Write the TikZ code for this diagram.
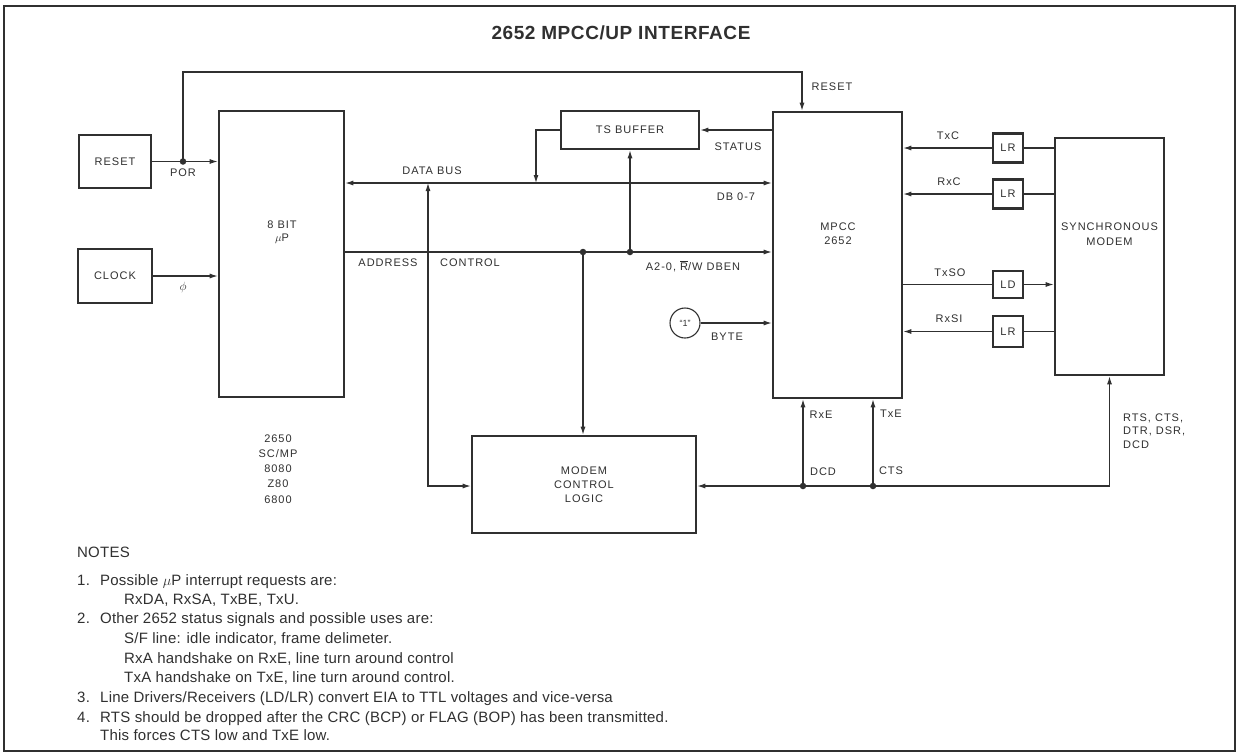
\documentclass[tikz,border=0pt]{standalone}
\usepackage{fontspec}
\setmainfont{Liberation Sans}
\newfontfamily\lblfamily[LetterSpace=9]{Liberation Sans}
\newfontfamily\ttlfamily[LetterSpace=3]{Liberation Sans}
\newfontfamily\notefamily[LetterSpace=1.5]{Liberation Sans}
\usetikzlibrary{arrows.meta}
\definecolor{ink}{HTML}{303030}
\newcommand\lblsize{\lblfamily\fontsize{11}{14}\selectfont}
\begin{document}
\begin{tikzpicture}[x=1pt,y=-1pt,
  box/.style={draw=ink, line width=2.6pt, inner sep=0pt, font=\lblsize, text=ink, align=center},
  lbl/.style={inner sep=0pt, font=\lblsize, text=ink, align=center},
  note/.style={inner sep=0pt, font=\notefamily\fontsize{15}{17}\selectfont, text=ink, anchor=base west},
  wire/.style={draw=ink, line width=1.1pt},
  tip/.tip={Latex[length=8pt,width=5pt]},
  arr/.style={wire, -tip},
  dot/.style={circle, fill=ink, inner sep=0pt, minimum size=6.5pt}]
\useasboundingbox (0,0) rectangle (1238,755);
\fill[white] (0,0) rectangle (1238,755);
\draw[ink, line width=1.3pt] (4,6) rectangle (1235,751);

\node[inner sep=0pt, text=ink, font=\ttlfamily\bfseries\fontsize{19}{21}\selectfont] (title) at (621,33) {2652 MPCC/UP INTERFACE};

% boxes
\node[box, minimum width=72pt, minimum height=53pt] (rst) at (115,161.5) {RESET};
\node[box, minimum width=74pt, minimum height=54pt] (clk) at (115,276) {CLOCK};
\node[box, minimum width=125pt, minimum height=286pt] (up) at (281.5,254) {};
\node[lbl, font=\lblfamily\fontsize{11}{13}\selectfont] (uptxt) at (282,232.5) {8 BIT\\$\mu$P};
\node[box, minimum width=138pt, minimum height=38pt] (tsbuf) at (630,130) {TS BUFFER};
\node[box, minimum width=129pt, minimum height=286pt] (mpcc) at (837.5,255) {};
\node[lbl] (mpcctxt) at (838,234) {MPCC\\2652};
\node[box, minimum width=224pt, minimum height=97pt] (mcl) at (584,484.5) {MODEM\\CONTROL\\LOGIC};
\node[box, minimum width=109pt, minimum height=237pt] (modem) at (1109.5,256.5) {};
\node[lbl, font=\lblfamily\fontsize{11}{15}\selectfont] (modemtxt) at (1109.5,234.5) {SYNCHRONOUS\\MODEM};
\node[box, line width=2.4pt, minimum width=30pt, minimum height=29pt] (lr1) at (1008,148) {LR};
\node[box, line width=2.4pt, minimum width=30pt, minimum height=29pt] (lr2) at (1008,194) {LR};
\node[box, line width=2.4pt, minimum width=30pt, minimum height=27pt] (ld) at (1008,284.5) {LD};
\node[box, line width=2.4pt, minimum width=30pt, minimum height=31pt] (lr3) at (1008,331.5) {LR};
\node[circle, draw=ink, line width=1.1pt, minimum size=30pt, inner sep=0pt, text=ink, font=\fontsize{9}{10}\selectfont] (one) at (685,323) {“1”};

% helper coordinates
\coordinate (ystat) at (0,130);
\coordinate (ybus) at (0,183);
\coordinate (yadr) at (0,252);
\coordinate (ymcl) at (0,486);
\coordinate (rstcorner) at (802,72);
\coordinate (tsdrop) at (536,130);
\coordinate (vx) at (428,486);

% reset / clock
\node[dot] (por) at (183,161.5) {};
\draw[arr] (rst.east) -- (rst.east -| up.west);
\draw[arr] (por.center) |- (rstcorner) -- (rstcorner |- mpcc.north);
\draw[arr] (clk.east) -- (clk.east -| up.west);
\node[lbl] (porl) at (183,173) {POR};
\node[lbl, font=\fontsize{12}{14}\selectfont] (phil) at (183,287) {$\phi$};
\node[lbl] (rstl) at (832,87) {RESET};

% buses
\draw[wire, tip-tip] (up.east |- ybus) -- (mpcc.west |- ybus);
\draw[arr] (mpcc.west |- ystat) -- (tsbuf.east |- ystat);
\draw[arr] (tsbuf.west |- ystat) -- (tsdrop) -- (tsdrop |- ybus);
\draw[arr] (up.east |- yadr) -- (mpcc.west |- yadr);
\node[dot] (d1) at (583,252) {};
\node[dot] (d2) at (630,252) {};
\draw[arr] (d2.center) -- (tsbuf.south);
\draw[arr] (d1.center) -- (d1.center |- mcl.north);
\draw[wire, tip-tip] (vx |- ybus) -- (vx) -- (mcl.west |- vx);
\draw[arr] (one.east) -- (one.east -| mpcc.west);

\node[lbl] (statl) at (738,147) {STATUS};
\node[lbl] (dbusl) at (432,171) {DATA BUS};
\node[lbl] (db07) at (736,197) {DB 0-7};
\node[lbl] (addrl) at (388,263) {ADDRESS};
\node[lbl] (ctrll) at (470,263) {CONTROL};
\node[lbl] (a20l) at (693,266) {A2-0, $\overline{\mbox{R}}$/W DBEN};
\node[lbl] (bytel) at (727,337) {BYTE};

% modem control
\node[dot] (dcd) at (803,486) {};
\node[dot] (cts) at (873,486) {};
\draw[arr] (dcd.center) -- (dcd.center |- mpcc.south);
\draw[arr] (cts.center) -- (cts.center |- mpcc.south);
\draw[arr] (modem.south |- ymcl) -- (mcl.east |- ymcl);
\draw[arr] (modem.south |- ymcl) -- (modem.south);
\node[lbl] (rxel) at (821,415) {RxE};
\node[lbl] (txel) at (891,414) {TxE};
\node[lbl] (dcdl) at (823,472) {DCD};
\node[lbl] (ctsl) at (891,471) {CTS};
\node[lbl, anchor=west, align=left, font=\lblfamily\fontsize{11}{13.5}\selectfont] (rtsl) at (1123,431) {RTS, CTS,\\DTR, DSR,\\DCD};

% line drivers / receivers
\draw[wire] (modem.west |- lr1) -- (lr1.east);
\draw[arr] (lr1.west) -- (lr1.west -| mpcc.east);
\draw[wire] (modem.west |- lr2) -- (lr2.east);
\draw[arr] (lr2.west) -- (lr2.west -| mpcc.east);
\draw[wire] (mpcc.east |- ld) -- (ld.west);
\draw[arr] (ld.east) -- (ld.east -| modem.west);
\draw[wire] (modem.west |- lr3) -- (lr3.east);
\draw[arr] (lr3.west) -- (lr3.west -| mpcc.east);
\node[lbl] (txcl) at (948,136) {TxC};
\node[lbl] (rxcl) at (949,182) {RxC};
\node[lbl] (txsol) at (950,273) {TxSO};
\node[lbl] (rxsil) at (949,319) {RxSI};

% processors
\node[lbl, font=\lblfamily\fontsize{11}{15.2}\selectfont] (cpus) at (278,469) {2650\\SC/MP\\8080\\Z80\\6800};

% notes
\node[note] (n0) at (77,557) {NOTES};
\node[note] (n1) at (77,585) {1.};
\node[note] (n1t) at (100,585) {Possible $\mu$P interrupt requests are:};
\node[note] (n1s) at (124,604) {RxDA, RxSA, TxBE, TxU.};
\node[note] (n2) at (77,623) {2.};
\node[note] (n2t) at (100,623) {Other 2652 status signals and possible uses are:};
\node[note] (n2a) at (124,643) {S/F line: idle indicator, frame delimeter.};
\node[note] (n2b) at (124,663) {RxA handshake on RxE, line turn around control};
\node[note] (n2c) at (124,682) {TxA handshake on TxE, line turn around control.};
\node[note] (n3) at (77,702) {3.};
\node[note] (n3t) at (100,702) {Line Drivers/Receivers (LD/LR) convert EIA to TTL voltages and vice-versa};
\node[note] (n4) at (77,722) {4.};
\node[note] (n4t) at (100,722) {RTS should be dropped after the CRC (BCP) or FLAG (BOP) has been transmitted.};
\node[note] (n4s) at (100,740) {This forces CTS low and TxE low.};
\end{tikzpicture}
\end{document}
